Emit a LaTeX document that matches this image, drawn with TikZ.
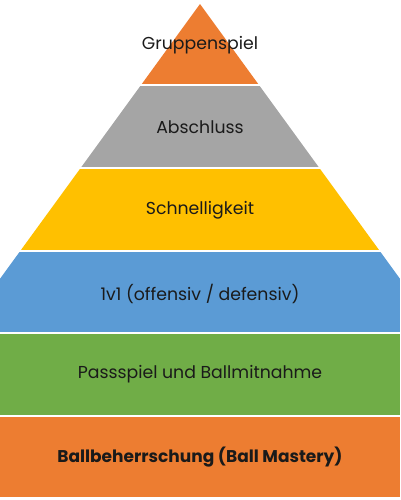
\documentclass[tikz,border=0pt]{standalone}
\usepackage{fontspec}
\setmainfont{Poppins}
\usepackage{tikz}
\usetikzlibrary{positioning}
\definecolor{lvl_orange}{HTML}{ED7D31}
\definecolor{lvl_gray}{HTML}{A5A5A5}
\definecolor{lvl_yellow}{HTML}{FFC000}
\definecolor{lvl_blue}{HTML}{5B9BD5}
\definecolor{lvl_green}{HTML}{70AD47}
\definecolor{lvl_text}{RGB}{26, 26, 26}
\tikzset{
  band/.style = {draw=none},
  lvl_label/.style = {align=center, inner sep=0pt, text=lvl_text, font=\fontsize{17.3}{20}\selectfont}
}

\begin{document}
\begin{tikzpicture}[x=1pt, y=-1pt]
  \useasboundingbox (0,0) rectangle (400,500);
  \begin{scope}
    \clip (200,4) -- (561,500) -- (-161,500) -- cycle;
    \foreach \top/\col in {4/lvl_orange, 86.5/lvl_gray, 169/lvl_yellow,
                           251.5/lvl_blue, 334/lvl_green, 416.5/lvl_orange}
      \fill [band, \col] (0,\top) rectangle (400,\top+80.5);
  \end{scope}
  \node [lvl_label] (gruppen) at (200,45) {Gruppenspiel};
  \node [lvl_label] (abschluss) at (200,127) {Abschluss};
  \node [lvl_label] (schnell) at (200,210) {Schnelligkeit};
  \node [lvl_label] (einsgegen) at (200,293.5) {1v1 (offensiv / defensiv)};
  \node [lvl_label] (pass) at (200,374.5) {Passspiel und Ballmitnahme};
  \node [lvl_label, font=\fontsize{17}{20}\selectfont\bfseries] (mastery) at (200,457) {Ballbeherrschung (Ball Mastery)};
\end{tikzpicture}
\end{document}
